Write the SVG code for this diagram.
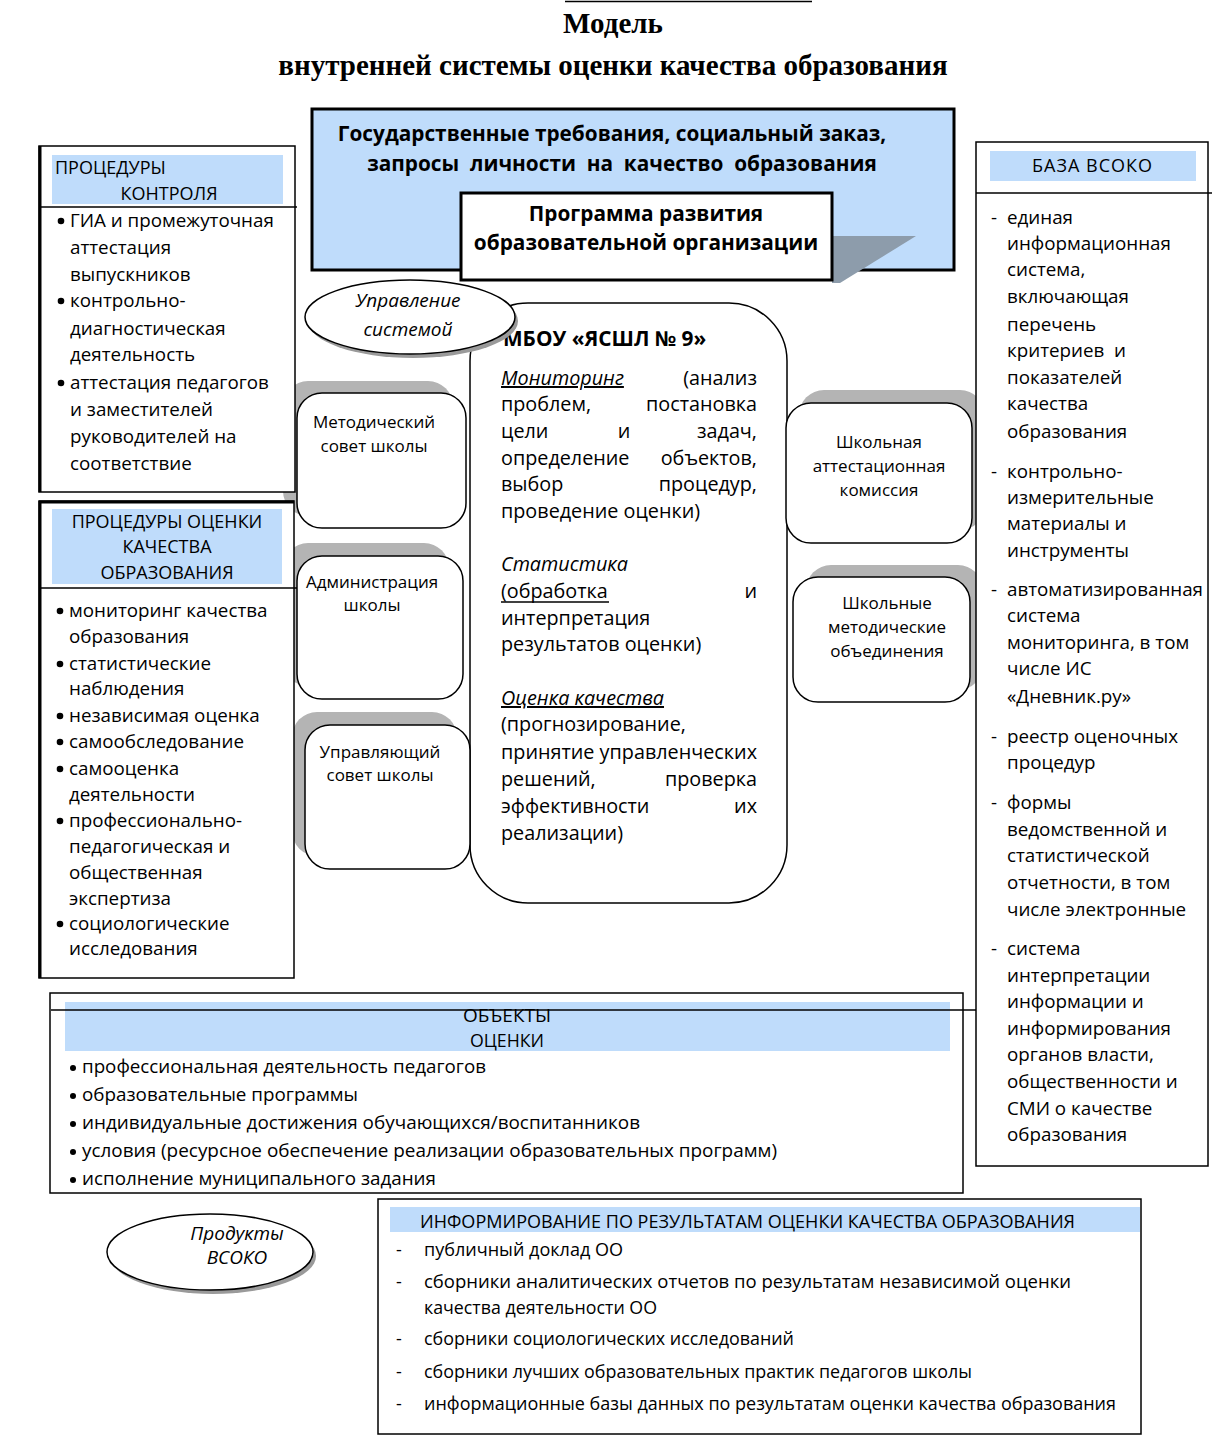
<svg xmlns="http://www.w3.org/2000/svg" width="1231" height="1444" viewBox="0 0 1231 1444">
<style>
text{font-family:"Open Sans","Noto Sans","DejaVu Sans",sans-serif;fill:#000}
.title{font-family:"Liberation Serif","Times New Roman",serif;font-weight:bold;font-size:29px}
.hb{font-weight:bold;font-size:20.8px}
.body{font-size:18.8px}
.cen{font-size:19.8px}
.small{font-size:17px}
.hdr{font-size:18px}
.cond{font-size:18px}
.el{font-size:19px;font-style:italic}
.it{font-style:italic}
.box{fill:#fff;stroke:#000;stroke-width:1.5}
.thick{fill:#fff;stroke:#000;stroke-width:3}
.blue{fill:#bfdcfb}
.shadow{fill:#b4b4b4}
.ln{stroke:#000;stroke-width:1.5;fill:none}
.c{text-anchor:middle}
.e{text-anchor:end}
</style>
<rect x="0" y="0" width="1231" height="1444" fill="#fff"/>

<g id="title">
<line x1="565" y1="1.5" x2="812" y2="1.5" class="ln"/>
<text x="613" y="33" class="title c">Модель</text>
<text x="613" y="75" class="title c">внутренней системы оценки качества образования</text>
</g>

<g id="connectors"></g>

<g id="shadows">
<rect x="283" y="381" width="170" height="135" rx="25" class="shadow"/>
<rect x="283" y="543" width="166" height="143" rx="25" class="shadow"/>
<rect x="292" y="712" width="165" height="144" rx="25" class="shadow"/>
<rect x="799" y="390" width="186" height="140" rx="25" class="shadow"/>
<rect x="806" y="565" width="177" height="125" rx="25" class="shadow"/>
</g>

<g id="node-gov">
<rect x="312" y="109" width="642" height="161" class="blue" stroke="#000" stroke-width="3"/>
<polygon points="832,236 916,236 840,283 832,283" fill="#8d9cab"/>
<text x="612" y="141" class="hb c">Государственные требования, социальный заказ,</text>
<text x="622" y="171" class="hb c" xml:space="preserve">запросы  личности  на  качество  образования</text>
</g>

<g id="node-program">
<rect x="461" y="193" width="371" height="87" class="thick"/>
<text x="646" y="221" class="hb c">Программа развития</text>
<text x="646" y="250" class="hb c">образовательной организации</text>
</g>

<g id="node-center">
<rect x="470" y="303" width="317" height="600" rx="58" class="box"/>
<text x="503" y="346" class="hb">МБОУ «ЯСШЛ № 9»</text>
<g class="cen">
<text x="501" y="385" class="it" text-decoration="underline">Мониторинг</text>
<text x="757" y="385" class="e">(анализ</text>
<text x="501" y="411">проблем,</text>
<text x="757" y="411" class="e">постановка</text>
<text x="501" y="438">цели</text>
<text x="624" y="438" class="c">и</text>
<text x="757" y="438" class="e">задач,</text>
<text x="501" y="465">определение</text>
<text x="757" y="465" class="e">объектов,</text>
<text x="501" y="491">выбор</text>
<text x="757" y="491" class="e">процедур,</text>
<text x="501" y="518">проведение оценки)</text>
<text x="501" y="571" class="it">Статистика</text>
<text x="501" y="598">(обработка</text>
<line x1="501" y1="602" x2="609" y2="602" stroke="#000" stroke-width="1.3"/>
<text x="757" y="598" class="e">и</text>
<text x="501" y="625">интерпретация</text>
<text x="501" y="651">результатов оценки)</text>
<text x="501" y="705" class="it" text-decoration="underline">Оценка качества</text>
<text x="501" y="731">(прогнозирование,</text>
<text x="501" y="759" textLength="256" lengthAdjust="spacing">принятие управленческих</text>
<text x="501" y="786">решений,</text>
<text x="757" y="786" class="e">проверка</text>
<text x="501" y="813">эффективности</text>
<text x="757" y="813" class="e">их</text>
<text x="501" y="840">реализации)</text>
</g>
</g>

<g id="node-upr">
<ellipse cx="413" cy="321" rx="105" ry="37" fill="#9a9a9a"/>
<ellipse cx="410" cy="317" rx="105" ry="37" class="box" stroke-width="1.2"/>
<text x="408" y="307" class="el c">Управление</text>
<text x="408" y="336" class="el c">системой</text>
</g>

<g id="node-proc-control">
<rect x="39" y="146" width="256" height="346" class="box"/>
<line x1="40" y1="146" x2="40" y2="492" stroke="#000" stroke-width="3"/>
<rect x="52" y="155" width="231" height="49" class="blue"/>
<line x1="39" y1="207" x2="297" y2="207" class="ln"/>
<text x="55" y="174" class="hdr">ПРОЦЕДУРЫ</text>
<text x="169" y="200" class="hdr c">КОНТРОЛЯ</text>
<g class="body">
<circle cx="61" cy="221" r="3.3"/>
<text x="70" y="227">ГИА и промежуточная</text>
<text x="70" y="254">аттестация</text>
<text x="70" y="281">выпускников</text>
<circle cx="61" cy="301" r="3.3"/>
<text x="70" y="307">контрольно-</text>
<text x="70" y="335">диагностическая</text>
<text x="70" y="361">деятельность</text>
<circle cx="61" cy="383" r="3.3"/>
<text x="70" y="389">аттестация педагогов</text>
<text x="70" y="416">и заместителей</text>
<text x="70" y="443">руководителей на</text>
<text x="70" y="470">соответствие</text>
</g>
</g>

<g id="node-proc-ocenka">
<rect x="39" y="501" width="255" height="477" class="box"/>
<line x1="40" y1="501" x2="40" y2="978" stroke="#000" stroke-width="3"/>
<line x1="39" y1="502" x2="294" y2="502" stroke="#000" stroke-width="3"/>
<rect x="52" y="509" width="230" height="75" class="blue"/>
<line x1="39" y1="588" x2="297" y2="588" class="ln"/>
<text x="167" y="528" class="hdr c">ПРОЦЕДУРЫ ОЦЕНКИ</text>
<text x="167" y="553" class="hdr c">КАЧЕСТВА</text>
<text x="167" y="579" class="hdr c">ОБРАЗОВАНИЯ</text>
<g class="body">
<circle cx="60" cy="611" r="3.3"/>
<text x="69" y="617">мониторинг качества</text>
<text x="69" y="643">образования</text>
<circle cx="60" cy="664" r="3.3"/>
<text x="69" y="670">статистические</text>
<text x="69" y="695">наблюдения</text>
<circle cx="60" cy="716" r="3.3"/>
<text x="69" y="722">независимая оценка</text>
<circle cx="60" cy="742" r="3.3"/>
<text x="69" y="748">самообследование</text>
<circle cx="60" cy="769" r="3.3"/>
<text x="69" y="775">самооценка</text>
<text x="69" y="801">деятельности</text>
<circle cx="60" cy="821" r="3.3"/>
<text x="69" y="827">профессионально-</text>
<text x="69" y="853">педагогическая и</text>
<text x="69" y="879">общественная</text>
<text x="69" y="905">экспертиза</text>
<circle cx="60" cy="924" r="3.3"/>
<text x="69" y="930">социологические</text>
<text x="69" y="955">исследования</text>
</g>
</g>

<g id="node-metod">
<rect x="297" y="393" width="169" height="135" rx="25" class="box"/>
<text x="374" y="428" class="small c">Методический</text>
<text x="374" y="452" class="small c">совет школы</text>
</g>

<g id="node-admin">
<rect x="297" y="556" width="166" height="143" rx="25" class="box"/>
<text x="372" y="588" class="small c">Администрация</text>
<text x="372" y="611" class="small c">школы</text>
</g>

<g id="node-upravl">
<rect x="305" y="725" width="165" height="144" rx="25" class="box"/>
<text x="380" y="758" class="small c">Управляющий</text>
<text x="380" y="781" class="small c">совет школы</text>
</g>

<g id="node-attest">
<rect x="786" y="403" width="186" height="140" rx="25" class="box"/>
<text x="879" y="448" class="small c">Школьная</text>
<text x="879" y="472" class="small c">аттестационная</text>
<text x="879" y="496" class="small c">комиссия</text>
</g>

<g id="node-shmo">
<rect x="793" y="577" width="177" height="125" rx="25" class="box"/>
<text x="887" y="609" class="small c">Школьные</text>
<text x="887" y="633" class="small c">методические</text>
<text x="887" y="657" class="small c">объединения</text>
</g>

<g id="node-baza">
<rect x="976" y="142" width="232" height="1024" class="box"/>
<rect x="990" y="151" width="206" height="30" class="blue"/>
<line x1="976" y1="193" x2="1212" y2="193" class="ln"/>
<text x="1092" y="172" class="hdr c" textLength="120" lengthAdjust="spacing">БАЗА ВСОКО</text>
<g class="body">
<text x="991" y="224">-</text><text x="1007" y="224">единая</text>
<text x="1007" y="250">информационная</text>
<text x="1007" y="276">система,</text>
<text x="1007" y="303">включающая</text>
<text x="1007" y="331">перечень</text>
<text x="1007" y="357" xml:space="preserve">критериев  и</text>
<text x="1007" y="384">показателей</text>
<text x="1007" y="410">качества</text>
<text x="1007" y="438">образования</text>
<text x="991" y="478">-</text><text x="1007" y="478">контрольно-</text>
<text x="1007" y="504">измерительные</text>
<text x="1007" y="530">материалы и</text>
<text x="1007" y="557">инструменты</text>
<text x="991" y="596">-</text><text x="1007" y="596">автоматизированная</text>
<text x="1007" y="622">система</text>
<text x="1007" y="649">мониторинга, в том</text>
<text x="1007" y="675">числе ИС</text>
<text x="1007" y="703">«Дневник.ру»</text>
<text x="991" y="743">-</text><text x="1007" y="743">реестр оценочных</text>
<text x="1007" y="769">процедур</text>
<text x="991" y="809">-</text><text x="1007" y="809">формы</text>
<text x="1007" y="836">ведомственной и</text>
<text x="1007" y="862">статистической</text>
<text x="1007" y="889">отчетности, в том</text>
<text x="1007" y="916">числе электронные</text>
<text x="991" y="955">-</text><text x="1007" y="955">система</text>
<text x="1007" y="982">интерпретации</text>
<text x="1007" y="1008">информации и</text>
<text x="1007" y="1035">информирования</text>
<text x="1007" y="1061">органов власти,</text>
<text x="1007" y="1088">общественности и</text>
<text x="1007" y="1115">СМИ о качестве</text>
<text x="1007" y="1141">образования</text>
</g>
</g>

<g id="node-objects">
<rect x="50" y="993" width="913" height="200" class="box"/>
<rect x="65" y="1002" width="885" height="49" class="blue"/>
<text x="507" y="1022" class="cond c" textLength="88" lengthAdjust="spacingAndGlyphs">ОБЪЕКТЫ</text>
<line x1="51" y1="1010" x2="976" y2="1010" class="ln"/>
<text x="507" y="1047" class="cond c" textLength="74" lengthAdjust="spacingAndGlyphs">ОЦЕНКИ</text>
<g class="cond">
<circle cx="73" cy="1068" r="3"/>
<text x="82" y="1073" textLength="404" lengthAdjust="spacingAndGlyphs">профессиональная деятельность педагогов</text>
<circle cx="73" cy="1096" r="3"/>
<text x="82" y="1101" textLength="276" lengthAdjust="spacingAndGlyphs">образовательные программы</text>
<circle cx="73" cy="1124" r="3"/>
<text x="82" y="1129" textLength="558" lengthAdjust="spacingAndGlyphs">индивидуальные достижения обучающихся/воспитанников</text>
<circle cx="73" cy="1152" r="3"/>
<text x="82" y="1157" textLength="695" lengthAdjust="spacingAndGlyphs">условия (ресурсное обеспечение реализации образовательных программ)</text>
<circle cx="73" cy="1180" r="3"/>
<text x="82" y="1185" textLength="354" lengthAdjust="spacingAndGlyphs">исполнение муниципального задания</text>
</g>
</g>

<g id="node-products">
<ellipse cx="213" cy="1256" rx="103" ry="38" fill="#9a9a9a"/>
<ellipse cx="210" cy="1252" rx="103" ry="38" class="box" stroke-width="1.2"/>
<text x="237" y="1240" class="el c">Продукты</text>
<text x="237" y="1264" class="el c">ВСОКО</text>
</g>

<g id="node-inform">
<rect x="378" y="1199" width="763" height="235" class="box"/>
<rect x="390" y="1207" width="750" height="25" class="blue"/>
<text x="420" y="1228" class="cond" textLength="655" lengthAdjust="spacingAndGlyphs">ИНФОРМИРОВАНИЕ ПО РЕЗУЛЬТАТАМ ОЦЕНКИ КАЧЕСТВА ОБРАЗОВАНИЯ</text>
<g class="cond">
<text x="396" y="1256">-</text>
<text x="424" y="1256" textLength="199" lengthAdjust="spacingAndGlyphs">публичный доклад ОО</text>
<text x="396" y="1288">-</text>
<text x="424" y="1288" textLength="647" lengthAdjust="spacingAndGlyphs">сборники  аналитических  отчетов  по  результатам  независимой  оценки</text>
<text x="424" y="1314" textLength="233" lengthAdjust="spacingAndGlyphs">качества деятельности ОО</text>
<text x="396" y="1345">-</text>
<text x="424" y="1345" textLength="370" lengthAdjust="spacingAndGlyphs">сборники социологических исследований</text>
<text x="396" y="1378">-</text>
<text x="424" y="1378" textLength="548" lengthAdjust="spacingAndGlyphs">сборники лучших образовательных практик педагогов школы</text>
<text x="396" y="1410">-</text>
<text x="424" y="1410" textLength="692" lengthAdjust="spacingAndGlyphs">информационные базы данных по результатам оценки качества образования</text>
</g>
</g>
</svg>
